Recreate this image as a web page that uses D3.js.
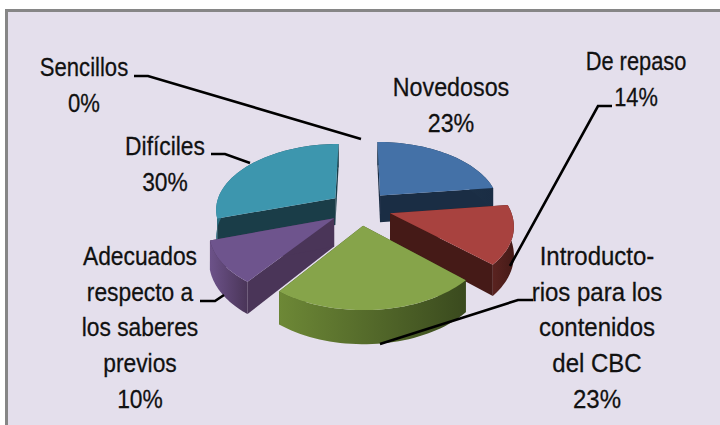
<!DOCTYPE html>
<html>
<head>
<meta charset="utf-8">
<script src="https://cdn.jsdelivr.net/npm/d3@7"></script>
<style>
  html, body { margin: 0; padding: 0; background: #fff; overflow: hidden; }
  svg { display: block; }
  text { font-family: "Liberation Sans", sans-serif; fill: #111; stroke: #111; stroke-width: 0.25; }
</style>
</head>
<body>
<svg id="chart"></svg>
<script>
const categories = ['Novedosos', 'De repaso', 'Introductorios para los contenidos del CBC', 'Adecuados respecto a los saberes previos', 'Difíciles', 'Sencillos'];
const values = [23, 14, 23, 10, 30, 0];

// wrapped label lines, last one is the percent
const labelLines = [
  ['Novedosos', '23%'],
  ['De repaso', '14%'],
  ['Introducto-', 'rios para los', 'contenidos', 'del CBC', '23%'],
  ['Adecuados', 'respecto a', 'los saberes', 'previos', '10%'],
  ['Difíciles', '30%'],
  ['Sencillos', '0%']
];
const labelPos = [[451, 96], [636, 70], [597, 265], [140, 265], [165, 155], [84, 76]];
const labelSqueeze = [0.97, 0.91, 1, 0.95, 0.95, 0.92];
const lineHeight = 35.75;
const leaders = [
  null,
  [[612, 106], [598, 106], [510, 266]],
  [[533, 300], [518, 300], [380, 344]],
  [[200, 301], [215, 301], [224, 295]],
  [[211, 154], [225, 154], [250, 163]],
  [[134, 76], [148, 76], [361, 139]]
];

const topColors = ['#4471a7', '#a8423f', '#86a44a', '#6e548d', '#3d96ae', '#d8853b'];
const wallColors = ['#1a2d44', '#451a17', '#3f4f20', '#4a3558', '#1a3d48', '#6b411b'];
const rimColors = [['#22394f', '#1a2d44'], ['#5a2320', '#451a17'], ['#6d8836', '#3a4a1e'], ['#6c5289', '#4a3558'], ['#2c6f82', '#1a3d48'], ['#6b411b', '#6b411b']];

const width = 720, height = 425;
const svg = d3.select('#chart').attr('width', width).attr('height', height);

// frame, right and bottom edges run off the picture
svg.append('rect')
  .attr('x', 6.5).attr('y', 10.5)
  .attr('width', 720).attr('height', 420)
  .attr('fill', '#e4dfec')
  .attr('stroke', '#868686')
  .attr('stroke-width', 3);

// perspective of the pie plane
const cx = 360, cy = 208, rx = 120, tilt = 65.4, persp = 0.154, explode = 0.26, depth = 27.5;
const sx = d3.scaleLinear().domain([-1, 1]).range([cx - rx, cx + rx]);
const sy = d3.scaleLinear().domain([-1, 1]).range([cy - tilt, cy + tilt]);

function project(x, z, drop) {
  const k = 1 / (1 - persp * z);
  return [sx(x * k), sy(z * k) + (drop ? depth * k : 0)];
}

const pie = d3.pie().sort(null).startAngle(0).endAngle(2 * Math.PI);
const arcs = pie(values).map((d, i) => {
  const mid = (d.startAngle + d.endAngle) / 2;
  return { ...d, i, mid, ox: explode * Math.sin(mid), oz: -explode * Math.cos(mid) };
}).filter(d => d.value > 0);

function rimPoints(d, drop) {
  return d3.range(0, 41).map(j => {
    const a = d.startAngle + (d.endAngle - d.startAngle) * j / 40;
    return project(d.ox + Math.sin(a), d.oz - Math.cos(a), drop);
  });
}

const line = d3.line();
const defs = svg.append('defs');
const pieG = svg.append('g');

// paint back slices first
arcs.slice().sort((a, b) => d3.ascending(-Math.cos(a.mid), -Math.cos(b.mid))).forEach(d => {
  const rim = rimPoints(d, false);
  const rimLow = rimPoints(d, true);
  const apex = project(d.ox, d.oz, false);
  const apexLow = project(d.ox, d.oz, true);
  const g = pieG.append('g').attr('class', 'slice');

  const gradId = `rim-${d.i}`;
  const ext = d3.extent(rim, p => p[0]);
  const grad = defs.append('linearGradient')
    .attr('id', gradId)
    .attr('gradientUnits', 'userSpaceOnUse')
    .attr('x1', ext[0]).attr('x2', ext[1]).attr('y1', 0).attr('y2', 0);
  grad.append('stop').attr('offset', 0).attr('stop-color', rimColors[d.i][0]);
  grad.append('stop').attr('offset', 1).attr('stop-color', rimColors[d.i][1]);

  // cut faces
  [rim[0], rim[40]].forEach((p, n) => {
    const low = n === 0 ? rimLow[0] : rimLow[40];
    g.append('path')
      .attr('d', line([apex, p, low, apexLow]) + 'Z')
      .attr('fill', wallColors[d.i]);
  });
  // outer wall
  g.append('path')
    .attr('d', line(rim.concat(rimLow.slice().reverse())) + 'Z')
    .attr('fill', `url(#${gradId})`);
  // top
  g.append('path')
    .attr('d', line([apex].concat(rim)) + 'Z')
    .attr('fill', topColors[d.i]);
});

// leader lines
svg.append('g').selectAll('path')
  .data(leaders.filter(Boolean))
  .join('path')
  .attr('d', d => line(d))
  .attr('fill', 'none')
  .attr('stroke', '#000')
  .attr('stroke-width', 2.6);

// labels, stretched a little to get the tall narrow look
labelLines.forEach((lines, i) => {
  const t = svg.append('text')
    .attr('text-anchor', 'middle')
    .attr('font-size', 24)
    .attr('transform', `translate(${labelPos[i][0]},${labelPos[i][1]}) scale(${labelSqueeze[i]},1.05)`);
  lines.forEach((s, j) => {
    t.append('tspan')
      .attr('x', 0)
      .attr('y', j * lineHeight / 1.05)
      .text(s);
  });
});
</script>
</body>
</html>
